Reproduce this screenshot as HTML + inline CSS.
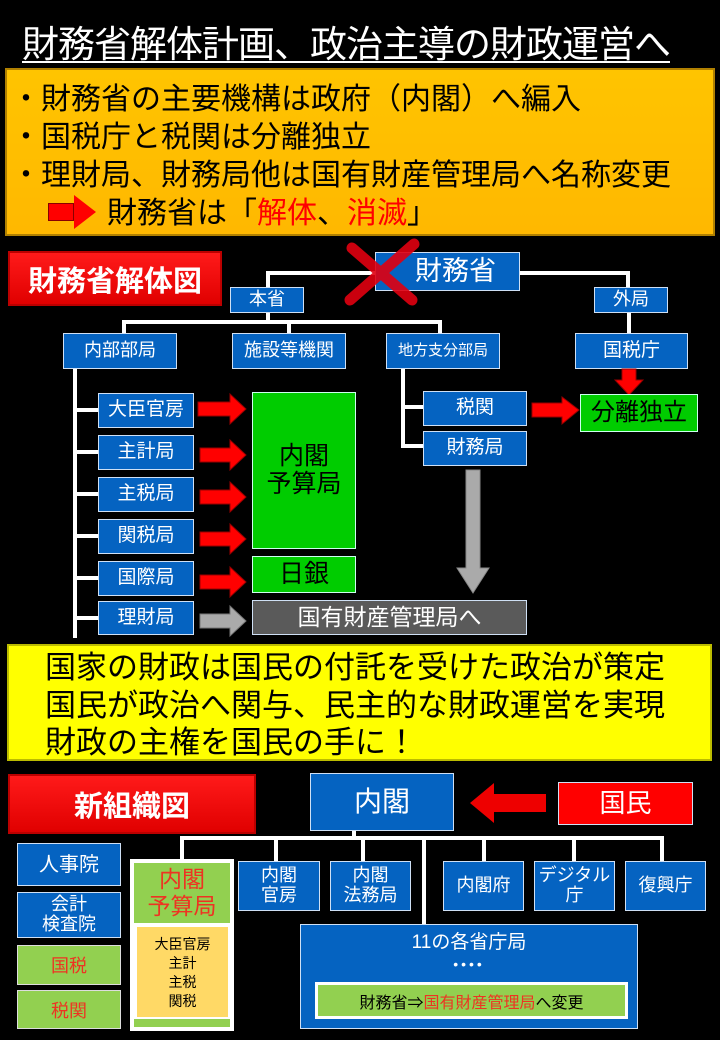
<!DOCTYPE html>
<html><head><meta charset="utf-8"><style>
body{margin:0;background:#000;width:720px;height:1040px;position:relative;overflow:hidden;font-family:"Liberation Sans","Noto Sans CJK JP",sans-serif;}
.a{position:absolute;box-sizing:border-box;}
.b{position:absolute;box-sizing:border-box;background:#0563C1;border:1px solid #cfe0f5;color:#fff;display:flex;align-items:center;justify-content:center;text-align:center;line-height:1.1;}
.g{background:#00CC00;color:#000;border:1px solid #cfe;}
.lg{position:absolute;box-sizing:border-box;background:#92D050;color:#E32;display:flex;align-items:center;justify-content:center;border:1px solid #ddd;font-size:18px;}
.w{position:absolute;background:#fff;}
.ra{position:absolute;width:0;height:0;}
</style></head><body>
<div class="a" style="left:22px;top:14px;font-size:37px;color:#fff;text-decoration:underline;text-decoration-thickness:2px;text-underline-offset:4px;white-space:nowrap;letter-spacing:-1px">財務省解体計画、政治主導の財政運営へ</div>
<div class="a" style="left:5px;top:68px;width:710px;height:168px;background:linear-gradient(#FFC400,#FFB800);border:2px solid #b08000;font-size:30px;line-height:38px;padding:11px 0 0 4px;color:#000;white-space:nowrap">
・財務省の主要機構は政府（内閣）へ編入<br>・国税庁と税関は分離独立<br>・理財局、財務局他は国有財産管理局へ名称変更<br>
<span style="display:inline-block;width:96px"></span>財務省は「<span style="color:#f00">解体</span>、<span style="color:#f00">消滅</span>」</div>
<div class="a" style="left:48px;top:203px;width:26px;height:18px;background:#f00;border:1px solid #800"></div>
<div class="ra" style="left:74px;top:195px;border-left:22px solid #f00;border-top:17px solid transparent;border-bottom:17px solid transparent"></div>

<div class="a" style="left:8px;top:251px;width:214px;height:55px;background:linear-gradient(#ff1a1a,#e00000);border:2px solid #b00;color:#fff;font-size:29px;display:flex;align-items:center;justify-content:center;font-weight:bold">財務省解体図</div>
<div class="w" style="left:266px;top:271px;width:110px;height:4px"></div>
<div class="w" style="left:266px;top:271px;width:4px;height:18px"></div>
<div class="w" style="left:519px;top:271px;width:111px;height:4px"></div>
<div class="w" style="left:626px;top:271px;width:4px;height:18px"></div>
<div class="b" style="left:375px;top:252px;width:145px;height:39px;font-size:27px;padding-left:16px">財務省</div>
<div class="b" style="left:230px;top:287px;width:74px;height:26px;font-size:18px">本省</div>
<div class="b" style="left:594px;top:287px;width:74px;height:26px;font-size:18px">外局</div>
<div class="w" style="left:266px;top:313px;width:4px;height:9px"></div>
<div class="w" style="left:122px;top:320px;width:320px;height:4px"></div>
<div class="w" style="left:122px;top:320px;width:4px;height:13px"></div>
<div class="w" style="left:287px;top:320px;width:4px;height:13px"></div>
<div class="w" style="left:438px;top:320px;width:4px;height:13px"></div>
<div class="w" style="left:627px;top:313px;width:4px;height:20px"></div>
<div class="b" style="left:63px;top:333px;width:114px;height:36px;font-size:18px">内部部局</div>
<div class="b" style="left:232px;top:333px;width:114px;height:36px;font-size:18px">施設等機関</div>
<div class="b" style="left:386px;top:333px;width:114px;height:36px;font-size:15px">地方支分部局</div>
<div class="b" style="left:575px;top:333px;width:113px;height:36px;font-size:19px">国税庁</div>
<svg class="a" style="left:340px;top:238px" width="85" height="70"><g stroke="#e00010" stroke-width="11" stroke-linecap="round" opacity="0.9"><line x1="12" y1="10" x2="72" y2="62"/><line x1="74" y1="6" x2="10" y2="62"/></g></svg>
<div class="w" style="left:73px;top:369px;width:4px;height:269px"></div>
<div class="w" style="left:73px;top:408px;width:26px;height:4px"></div>
<div class="w" style="left:73px;top:450px;width:26px;height:4px"></div>
<div class="w" style="left:73px;top:492px;width:26px;height:4px"></div>
<div class="w" style="left:73px;top:534px;width:26px;height:4px"></div>
<div class="w" style="left:73px;top:576px;width:26px;height:4px"></div>
<div class="w" style="left:73px;top:616px;width:26px;height:4px"></div>
<div class="b" style="left:98px;top:393px;width:96px;height:35px;font-size:19px">大臣官房</div>
<div class="b" style="left:98px;top:435px;width:96px;height:35px;font-size:19px">主計局</div>
<div class="b" style="left:98px;top:477px;width:96px;height:35px;font-size:19px">主税局</div>
<div class="b" style="left:98px;top:519px;width:96px;height:35px;font-size:19px">関税局</div>
<div class="b" style="left:98px;top:561px;width:96px;height:35px;font-size:19px">国際局</div>
<div class="b" style="left:98px;top:601px;width:96px;height:34px;font-size:19px">理財局</div>
<svg class="a" style="left:196px;top:390px" width="56" height="250">
<g fill="#f00" stroke="#900" stroke-width="1">
<polygon points="2,12 34,12 34,4 50,19 34,34 34,26 2,26"/>
<polygon points="4,58 34,58 34,50 50,65 34,80 34,72 4,72"/>
<polygon points="4,100 34,100 34,92 50,107 34,122 34,114 4,114"/>
<polygon points="4,142 34,142 34,134 50,149 34,164 34,156 4,156"/>
<polygon points="4,185 34,185 34,177 50,192 34,207 34,199 4,199"/>
</g>
<polygon points="4,224 34,224 34,216 50,231 34,246 34,238 4,238" fill="#aaa" stroke="#777"/>
</svg>
<div class="b g" style="left:252px;top:392px;width:104px;height:157px;font-size:25px">内閣<br>予算局</div>
<div class="b g" style="left:252px;top:556px;width:104px;height:37px;font-size:25px">日銀</div>
<div class="b" style="left:252px;top:600px;width:275px;height:35px;font-size:23px;background:#5a5a5a">国有財産管理局へ</div>
<div class="w" style="left:401px;top:369px;width:4px;height:78px"></div>
<div class="w" style="left:401px;top:405px;width:22px;height:4px"></div>
<div class="w" style="left:401px;top:444px;width:22px;height:4px"></div>
<div class="b" style="left:423px;top:391px;width:104px;height:35px;font-size:19px">税関</div>
<div class="b" style="left:423px;top:431px;width:104px;height:35px;font-size:19px">財務局</div>
<svg class="a" style="left:455px;top:468px" width="36" height="128"><polygon points="11,2 25,2 25,100 34,100 18,125 2,100 11,100" fill="#aaa" stroke="#888"/></svg>
<svg class="a" style="left:530px;top:396px" width="52" height="30"><polygon points="2,7 32,7 32,1 49,14 32,28 32,21 2,21" fill="#f00" stroke="#900"/></svg>
<svg class="a" style="left:614px;top:368px" width="30" height="28"><polygon points="8,1 22,1 22,12 29,12 15,27 1,12 8,12" fill="#f00" stroke="#900"/></svg>
<div class="b g" style="left:580px;top:394px;width:118px;height:38px;font-size:24px">分離独立</div>

<div class="a" style="left:7px;top:644px;width:705px;height:117px;background:#FFFF00;border:2px solid #bb0;font-size:31px;line-height:37.5px;padding:3px 0 0 36px;color:#000;white-space:nowrap">国家の財政は国民の付託を受けた政治が策定<br>国民が政治へ関与、民主的な財政運営を実現<br>財政の主権を国民の手に！</div>

<div class="a" style="left:8px;top:774px;width:248px;height:60px;background:linear-gradient(#ff1a1a,#e00000);border:2px solid #b00;color:#fff;font-size:29px;display:flex;align-items:center;justify-content:center;font-weight:bold">新組織図</div>
<div class="b" style="left:310px;top:773px;width:144px;height:58px;font-size:28px">内閣</div>
<svg class="a" style="left:468px;top:782px" width="80" height="44"><polygon points="2,21 26,1 26,12 78,12 78,30 26,30 26,41" fill="#e00" /></svg>
<div class="b" style="left:558px;top:782px;width:135px;height:43px;font-size:26px;background:#f00">国民</div>
<div class="w" style="left:352px;top:831px;width:4px;height:8px"></div>
<div class="w" style="left:180px;top:836px;width:484px;height:4px"></div>
<div class="w" style="left:180px;top:836px;width:4px;height:24px"></div>
<div class="w" style="left:274px;top:836px;width:4px;height:25px"></div>
<div class="w" style="left:361px;top:836px;width:4px;height:25px"></div>
<div class="w" style="left:422px;top:836px;width:4px;height:88px"></div>
<div class="w" style="left:482px;top:836px;width:4px;height:25px"></div>
<div class="w" style="left:572px;top:836px;width:4px;height:25px"></div>
<div class="w" style="left:660px;top:836px;width:4px;height:25px"></div>
<div class="b" style="left:17px;top:843px;width:104px;height:43px;font-size:20px">人事院</div>
<div class="b" style="left:17px;top:892px;width:104px;height:46px;font-size:18px">会計<br>検査院</div>
<div class="lg" style="left:17px;top:945px;width:104px;height:40px">国税</div>
<div class="lg" style="left:17px;top:990px;width:104px;height:39px">税関</div>
<div class="a" style="left:130px;top:859px;width:104px;height:172px;background:#fff"></div>
<div class="a" style="left:134px;top:863px;width:96px;height:60px;background:#92D050;color:#E32;font-size:23px;line-height:27px;text-align:center;padding-top:3px;box-sizing:border-box">内閣<br>予算局</div>
<div class="a" style="left:134px;top:1019px;width:96px;height:8px;background:#92D050"></div>
<div class="a" style="left:137px;top:927px;width:91px;height:90px;background:#FFD966;color:#000;font-size:14px;line-height:19px;text-align:center;padding-top:8px;box-sizing:border-box">大臣官房<br>主計<br>主税<br>関税</div>
<div class="b" style="left:238px;top:861px;width:82px;height:50px;font-size:18px">内閣<br>官房</div>
<div class="b" style="left:330px;top:861px;width:81px;height:50px;font-size:18px">内閣<br>法務局</div>
<div class="b" style="left:443px;top:861px;width:81px;height:50px;font-size:18px">内閣府</div>
<div class="b" style="left:534px;top:861px;width:81px;height:50px;font-size:18px">デジタル<br>庁</div>
<div class="b" style="left:625px;top:861px;width:81px;height:50px;font-size:18px">復興庁</div>
<div class="b" style="left:300px;top:924px;width:338px;height:105px;display:block;font-size:19px;padding-top:8px">11の各省庁局<br><span style="font-size:14px;letter-spacing:3px">••••</span></div>
<div class="a" style="left:315px;top:982px;width:313px;height:37px;background:#92D050;border:3px solid #fff;font-size:16px;display:flex;align-items:center;justify-content:center;color:#000">財務省⇒<span style="color:#E32">国有財産管理局</span>へ変更</div>
</body></html>
